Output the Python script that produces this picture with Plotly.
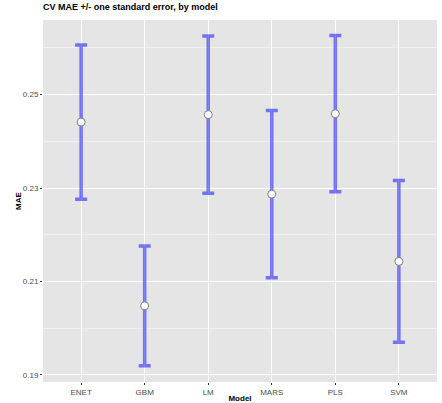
import plotly.graph_objects as go

# Cross-validated mean absolute error per model, with one standard error
models = ["ENET", "GBM", "LM", "MARS", "PLS", "SVM"]
mae_mean = [0.2441, 0.2048, 0.2457, 0.2287, 0.2459, 0.2143]
mae_se = [0.0165, 0.0128, 0.0168, 0.0179, 0.0167, 0.0173]

y_ticks = [0.19, 0.21, 0.23, 0.25]
y_minor = [0.20, 0.22, 0.24, 0.26]

fig = go.Figure()
fig.add_trace(go.Scatter(
    x=models,
    y=mae_mean,
    mode="markers",
    marker=dict(size=8, color="white", line=dict(color="#7f7f7f", width=1)),
    error_y=dict(
        type="data",
        array=mae_se,
        symmetric=True,
        color="rgba(0,0,255,0.5)",
        thickness=3.5,
        width=6,
    ),
    showlegend=False,
))

fig.update_layout(
    width=442,
    height=403,
    margin=dict(l=43, r=5, t=20, b=21),
    paper_bgcolor="white",
    plot_bgcolor="#e5e5e5",
    font=dict(family="Liberation Sans, Arial, sans-serif", color="#4d4d4d", size=8),
    title=dict(
        text="<b>CV MAE +/- one standard error, by model</b>",
        x=0, xref="paper", xanchor="left",
        y=1, yref="container", yanchor="top", pad=dict(t=4),
        font=dict(size=9, color="black"),
    ),
    xaxis=dict(
        range=[-0.6, 5.6],
        automargin=False,
        showgrid=True, gridcolor="white", gridwidth=1,
        ticks="outside", ticklen=2, tickcolor="#333333",
        tickfont=dict(size=8, color="#4d4d4d"),
        title=dict(text="<b>Model</b>", font=dict(size=8, color="black"), standoff=0),
        zeroline=False,
    ),
    yaxis=dict(
        range=[0.1885, 0.26594],
        automargin=False,
        tickvals=y_ticks,
        ticktext=[f"{v:.2f}" for v in y_ticks],
        showgrid=True, gridcolor="white", gridwidth=1,
        ticks="outside", ticklen=2, tickcolor="#333333",
        tickfont=dict(size=8, color="#4d4d4d"),
        title=dict(text="<b>MAE</b>", font=dict(size=8, color="black"), standoff=0),
        zeroline=False,
        minor=dict(tickvals=y_minor, showgrid=True, gridcolor="#f0f0f0", gridwidth=0.6, ticks=""),
    ),
)

fig.write_html("out.html")
